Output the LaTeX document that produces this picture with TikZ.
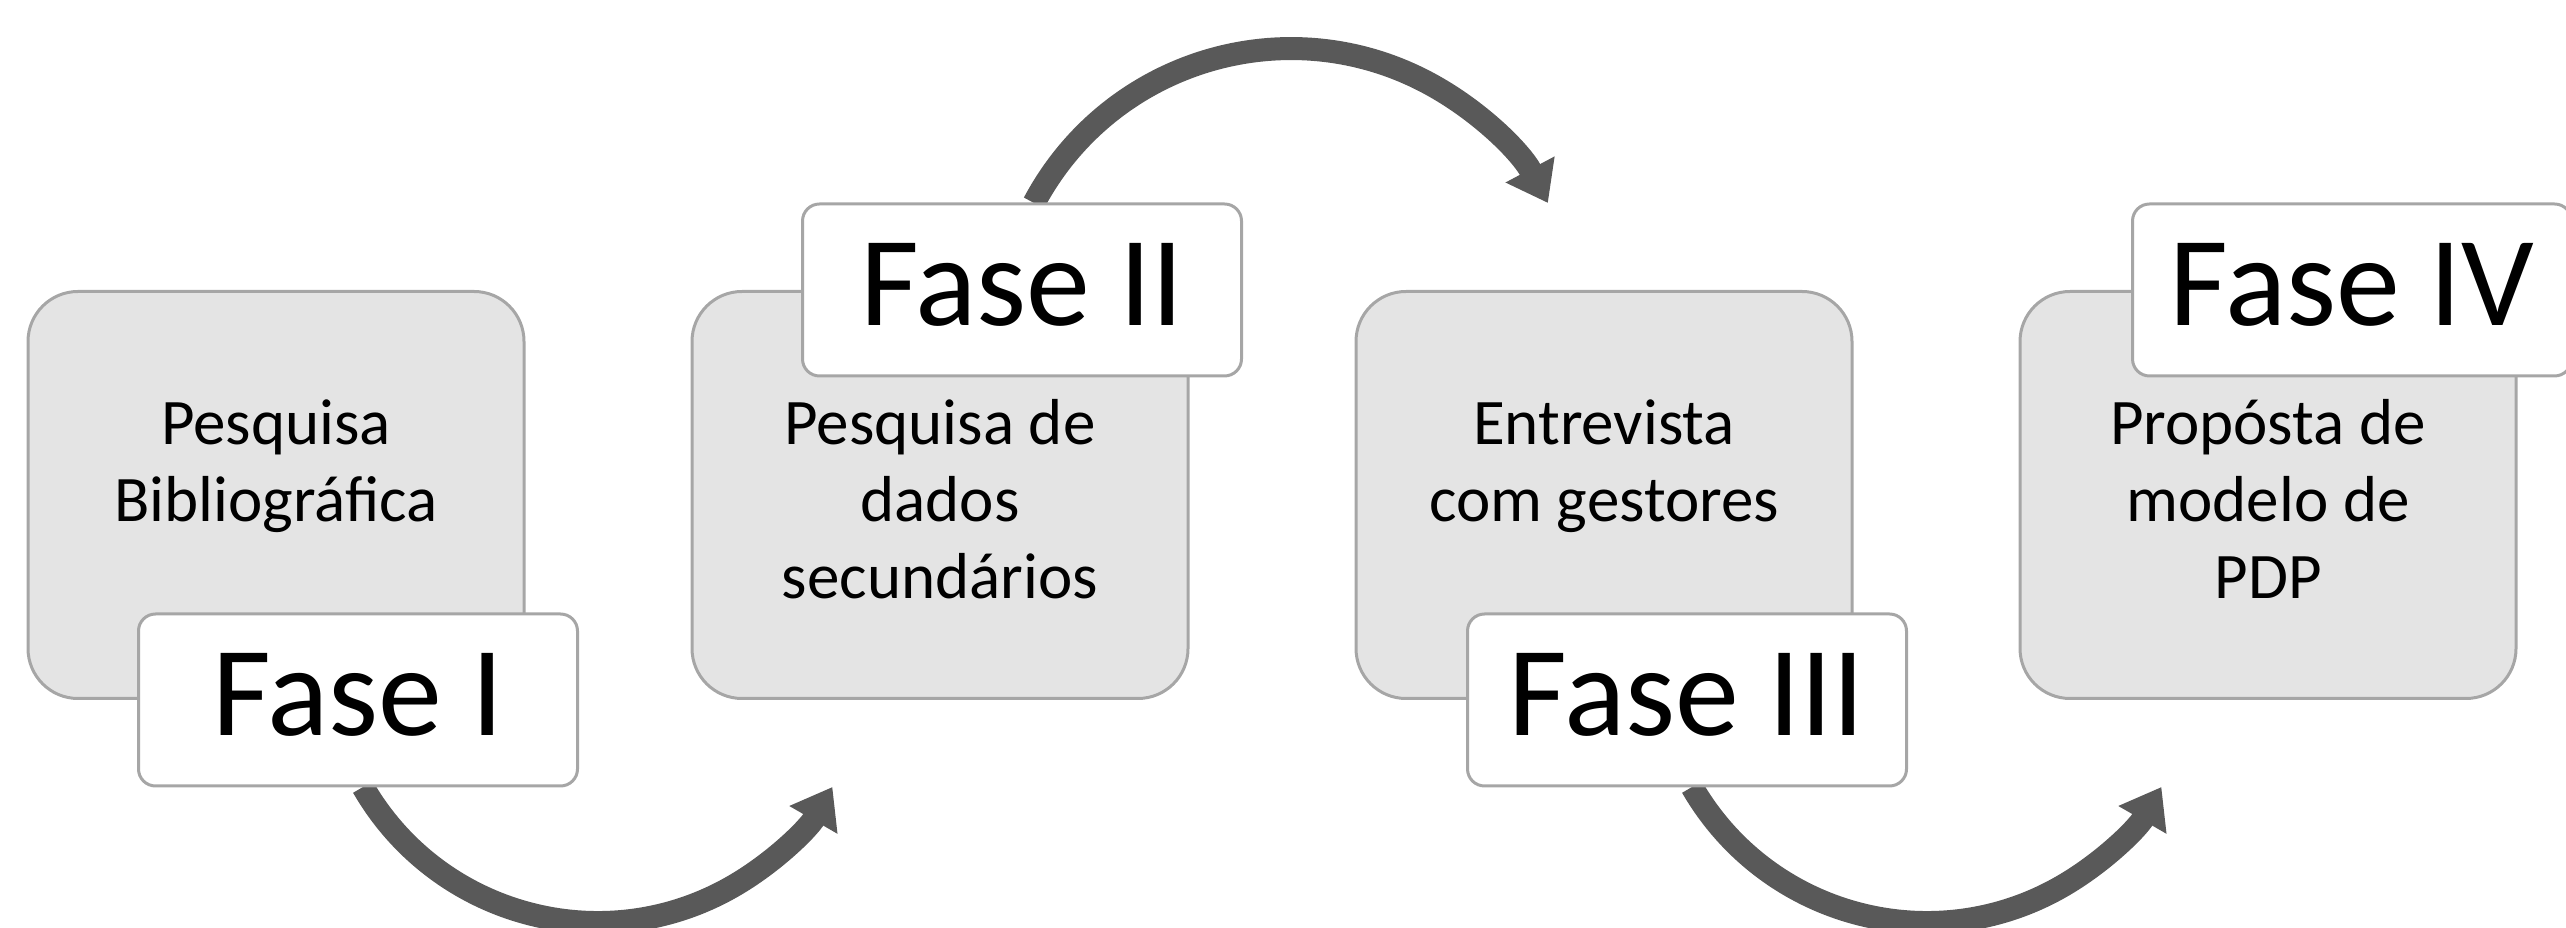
\documentclass[tikz,border=0pt]{standalone}
\usepackage{fontspec}
\setmainfont{Carlito}
\usetikzlibrary{arrows.meta}
\definecolor{boxgray}{HTML}{E4E4E4}
\definecolor{edgegray}{HTML}{A6A6A6}
\definecolor{arrowgray}{HTML}{595959}
\begin{document}
\begin{tikzpicture}[x=1pt, y=1pt,
  etapa/.style={draw=edgegray, line width=3pt, fill=boxgray, rounded corners=50pt, minimum width=496pt, minimum height=407pt},
  fase/.style={draw=edgegray, line width=3pt, fill=white, rounded corners=17pt, minimum width=439pt, minimum height=172pt, text depth=12pt, font=\fontsize{128}{150}\selectfont},
  texto/.style={align=center, inner sep=0pt, anchor=base, font=\fontsize{65}{77}\selectfont},
  seta/.style={draw=arrowgray, line width=23pt, -{Triangle[length=38pt, width=53pt]}}]
\useasboundingbox (0,0) rectangle (2566,928);
\node[etapa] (box1) at (276,433){};
\node[etapa] (box2) at (940,433){};
\node[etapa] (box3) at (1604,433){};
\node[etapa] (box4) at (2268,433){};
% base = last line
\node[texto] (txt1) at (276,406){Pesquisa\\Bibliográfica};
\node[texto] (txt2) at (940,329){Pesquisa de\\dados\\secundários};
\node[texto] (txt3) at (1604,406){Entrevista\\com gestores};
\node[texto] (txt4) at (2268,329){Propósta de\\modelo de\\PDP};
\coordinate (ini1) at (363,141);
\coordinate (ini2) at (1034,725);
\coordinate (ini3) at (1692,141);
\draw[seta] (ini1) arc[start angle=210, end angle=330, radius=271];
\draw[seta] (ini2) arc[start angle=152, end angle=28, radius=291];
\draw[seta] (ini3) arc[start angle=210, end angle=330, radius=271];
\node[fase] (fase1) at (358,228){Fase I};
\node[fase] (fase2) at (1022,638){Fase II};
\node[fase] (fase3) at (1687,228){Fase III};
\node[fase] (fase4) at (2352,638){Fase IV};

\end{tikzpicture}
\end{document}
